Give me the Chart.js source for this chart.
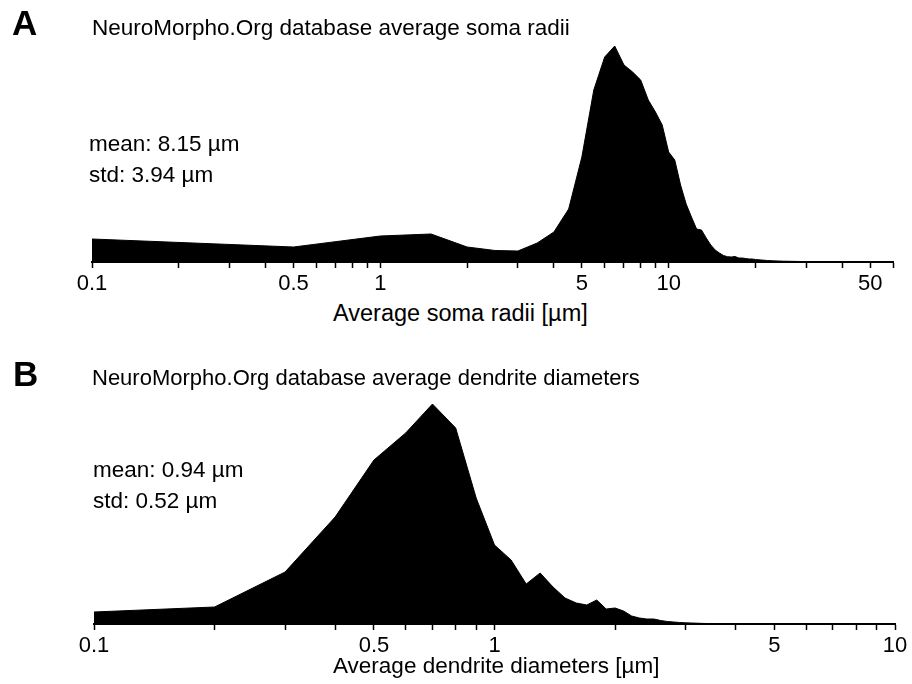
<!DOCTYPE html>
<html>
<head>
<meta charset="utf-8">
<script src="https://cdn.jsdelivr.net/npm/chart.js@4"></script>
<style>
  body { margin: 0; background: #fff; }
  #wrap { position: relative; width: 912px; height: 684px; }
  canvas { position: absolute; left: 0; }
</style>
</head>
<body>
<div id="wrap">
  <canvas id="somaChart" width="912" height="300" style="top:0px"></canvas>
  <canvas id="dendChart" width="912" height="320" style="top:342px"></canvas>
</div>
<script>
// soma radii histogram (arbitrary count units)
var somaRadius = [0.1, 0.5, 1, 1.5, 2, 2.5, 3, 3.5, 4, 4.5, 5, 5.5, 6, 6.5, 7, 7.5, 8, 8.5, 9, 9.5,
  10, 10.5, 11, 11.5, 12, 12.5, 13, 13.5, 14, 14.5, 15, 15.5, 16, 16.5, 17, 17.5, 18, 18.5, 19, 19.5,
  20, 21, 22, 23, 24, 25, 30, 40, 50, 60];
var somaCount = [23, 15, 26, 28, 15, 11.5, 11, 19, 30, 53, 105, 172, 205, 216, 197, 190, 182, 162, 150, 137,
  110, 102, 77, 58, 45, 33, 32, 24, 17, 12, 9, 6.5, 5.3, 5, 5.5, 4, 4, 3.5, 3, 3,
  2.5, 2, 1.5, 1.2, 1, 0.8, 0.4, 0.2, 0.1, 0.05];
var somaTicks = [0.1, 0.2, 0.3, 0.4, 0.5, 0.6, 0.7, 0.8, 0.9, 1, 2, 3, 4, 5, 6, 7, 8, 9, 10, 20, 30, 40, 50, 60];
var somaTickLabels = [0.1, 0.5, 1, 5, 10, 50];

// dendrite diameter histogram
var dendDiam = [0.1, 0.2, 0.3, 0.4, 0.5, 0.6, 0.7, 0.8, 0.9, 1.0,
  1.1, 1.2, 1.3, 1.4, 1.5, 1.6, 1.7, 1.8, 1.9, 2.0,
  2.1, 2.2, 2.3, 2.4, 2.5, 2.6, 2.7, 2.8, 2.9, 3.0,
  3.1, 3.2, 3.3, 3.4, 3.5, 4, 5, 6, 7, 8, 9, 10];
var dendCount = [12, 17, 52, 107, 164, 191, 220, 196, 126, 79,
  64, 40, 51, 37, 26, 21, 19, 24, 15, 16,
  13, 8, 6, 5, 5, 3.5, 2.5, 2, 1.5, 1.2,
  1, 0.8, 0.6, 0.5, 0.4, 0.3, 0.2, 0.1, 0.1, 0.1, 0.1, 0.1];
var dendTicks = [0.1, 0.2, 0.3, 0.4, 0.5, 0.6, 0.7, 0.8, 0.9, 1, 2, 3, 4, 5, 6, 7, 8, 9, 10];
var dendTickLabels = [0.1, 0.5, 1, 5, 10];

var FONT = "'Liberation Sans', Arial, sans-serif";

// draws the panel letters, titles and stats as canvas text
const textPlugin = {
  id: 'texts',
  afterDraw: function(chart) {
    var ctx = chart.ctx;
    ctx.save();
    ctx.fillStyle = '#000';
    ctx.textBaseline = 'alphabetic';
    chart.options.plugins.texts.items.forEach(function(t) {
      ctx.font = t.font;
      ctx.textAlign = t.align || 'left';
      ctx.fillText(t.text, t.x, t.y);
    });
    ctx.restore();
  }
};

function makeConfig(xs, ys, ticks, tickLabels, xmax, ymax, pad, texts) {
  return {
    type: 'line',
    data: {
      datasets: [{
        data: xs.map(function(x, i) { return {x: x, y: ys[i]}; }),
        backgroundColor: '#000',
        borderColor: '#000',
        borderWidth: 1,
        pointRadius: 0,
        fill: 'origin',
        tension: 0
      }]
    },
    options: {
      responsive: false,
      animation: false,
      layout: { padding: pad },
      plugins: {
        legend: { display: false },
        tooltip: { enabled: false },
        texts: { items: texts }
      },
      scales: {
        x: {
          type: 'logarithmic',
          min: 0.1,
          max: xmax,
          afterBuildTicks: function(scale) {
            scale.ticks = ticks.map(function(v) { return {value: v}; });
          },
          afterFit: function(scale) { scale.height = 38; },
          ticks: {
            autoSkip: false,
            maxRotation: 0,
            padding: 3,
            color: '#000',
            font: { family: FONT, size: 22 },
            callback: function(value) {
              return tickLabels.indexOf(value) >= 0 ? String(value) : '';
            }
          },
          grid: {
            drawOnChartArea: false,
            drawTicks: true,
            tickLength: 6,
            tickColor: '#000',
            tickWidth: 1.5
          },
          border: { display: true, color: '#000', width: 2 }
        },
        y: { display: false, min: 0, max: ymax }
      }
    },
    plugins: [textPlugin]
  };
}

var somaTexts = [
  {text: 'A', x: 12, y: 35, font: 'bold 35px ' + FONT},
  {text: 'NeuroMorpho.Org database average soma radii', x: 92, y: 35, font: '22.5px ' + FONT},
  {text: 'mean: 8.15 \u00b5m', x: 89, y: 151, font: '22.5px ' + FONT},
  {text: 'std: 3.94 \u00b5m', x: 89, y: 182, font: '22.5px ' + FONT}
];
var dendTexts = [
  {text: 'B', x: 13, y: 386 - 342, font: 'bold 35px ' + FONT},
  {text: 'NeuroMorpho.Org database average dendrite diameters', x: 92, y: 385 - 342, font: '22px ' + FONT},
  {text: 'mean: 0.94 \u00b5m', x: 93, y: 477 - 342, font: '22.5px ' + FONT},
  {text: 'std: 0.52 \u00b5m', x: 93, y: 508 - 342, font: '22.5px ' + FONT}
];

function drawCharts() {
  new Chart(document.getElementById('somaChart'),
    makeConfig(somaRadius, somaCount, somaTicks, somaTickLabels, 60, 222,
      {top: 40, left: 92, right: 19, bottom: 0}, somaTexts));
  new Chart(document.getElementById('dendChart'),
    makeConfig(dendDiam, dendCount, dendTicks, dendTickLabels, 10, 224,
      {top: 58, left: 94, right: 17, bottom: 0}, dendTexts));
}
drawCharts();
</script>
<div style="position:absolute; left:333px; top:300px; font: 23.5px 'Liberation Sans', Arial, sans-serif; color:#000; white-space:nowrap;">Average soma radii [µm]</div>
<div style="position:absolute; left:333px; top:653px; font: 22.5px 'Liberation Sans', Arial, sans-serif; color:#000; white-space:nowrap;">Average dendrite diameters [µm]</div>
</body>
</html>
